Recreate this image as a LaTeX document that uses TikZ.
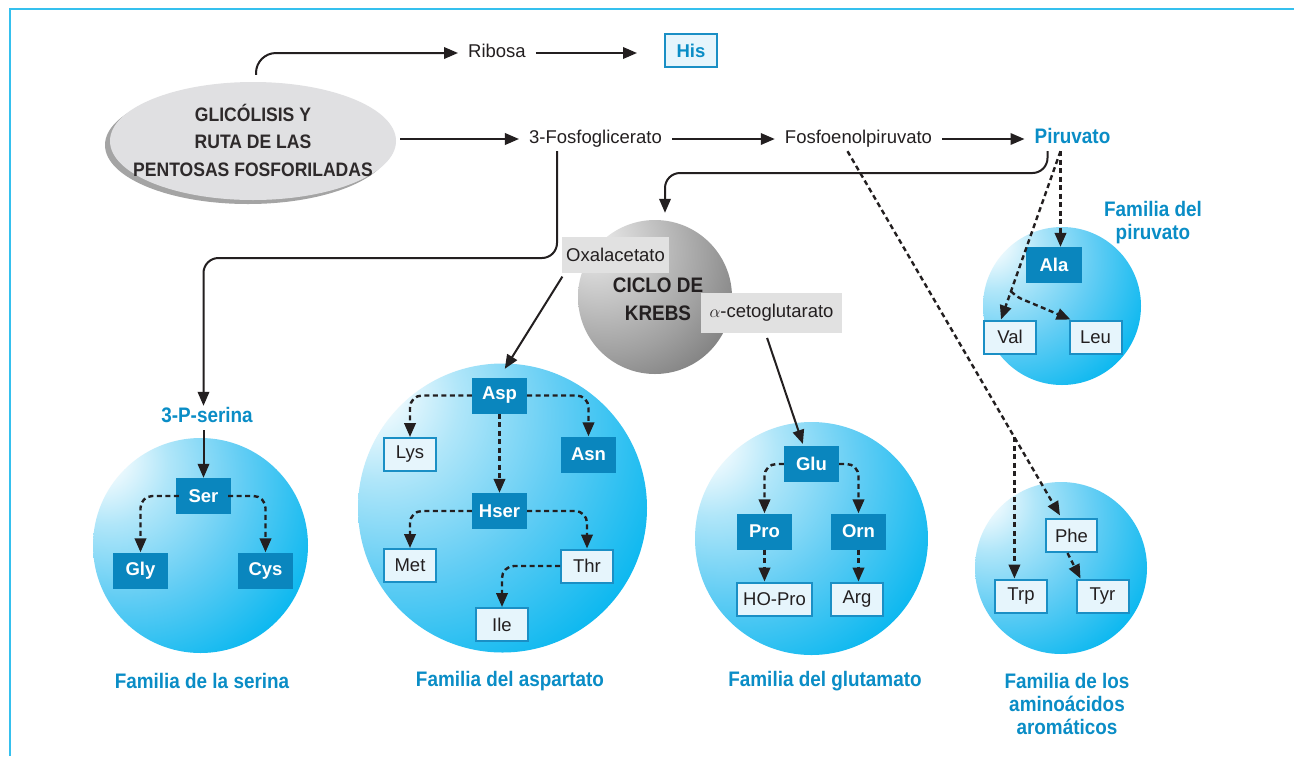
\documentclass[tikz,border=0pt]{standalone}
\usepackage{fontspec}
\setmainfont{Liberation Sans}
\newfontfamily\condfont{Liberation Sans}[FakeStretch=0.9]
\usetikzlibrary{arrows.meta,calc,shapes.geometric}

\definecolor{ink}{HTML}{231F20}
\definecolor{labelblue}{HTML}{0A8DC6}
\definecolor{boxblue}{HTML}{0A86BE}
\definecolor{lightfill}{HTML}{E6F5FC}
\definecolor{lightedge}{HTML}{1A8FC5}
\definecolor{ellgray}{HTML}{E0E0E2}
\definecolor{ellrim}{HTML}{D2D2D4}
\definecolor{shadowgray}{HTML}{A4A4A4}
\definecolor{tagfill}{HTML}{E1E1E1}
\definecolor{framecol}{HTML}{35C0EE}
\definecolor{sphB}{HTML}{B0E6F9}
\definecolor{sphC}{HTML}{62CDF4}
\definecolor{sphD}{HTML}{00B5EF}
\definecolor{grA}{HTML}{F0F0F0}
\definecolor{grB}{HTML}{D2D2D2}
\definecolor{grC}{HTML}{A0A0A0}
\definecolor{grD}{HTML}{5E5E5E}

% sphere shadings, lit from the upper left
\pgfdeclareradialshading{bluesphere}{\pgfpoint{-25bp}{22bp}}{%
  color(0bp)=(white); color(3bp)=(white); color(14bp)=(sphB);
  color(28bp)=(sphC); color(46bp)=(sphD); color(100bp)=(sphD)}
\pgfdeclareradialshading{greysphere}{\pgfpoint{-22bp}{20bp}}{%
  color(0bp)=(grA); color(12bp)=(grB); color(32bp)=(grC);
  color(56bp)=(grD); color(100bp)=(grD)}
\pgfdeclareradialshading{ellshade}{\pgfpoint{0bp}{4bp}}{%
  color(0bp)=(ellgray); color(40bp)=(ellgray); color(50bp)=(ellrim); color(100bp)=(ellrim)}

\begin{document}
\begin{tikzpicture}[x=1pt,y=-1pt,
  txt/.style={font=\fontsize{18.5}{22}\selectfont, text=ink,
    inner xsep=10pt, inner ysep=3pt, text height=13.5pt, text depth=4.5pt},
  btxt/.style={txt, font=\condfont\bfseries\fontsize{21}{22}\selectfont, text=labelblue},
  fam/.style={font=\condfont\bfseries\fontsize{21}{23}\selectfont, text=labelblue, align=center},
  dbox/.style={fill=boxblue, text=white, font=\bfseries\fontsize{18.5}{20}\selectfont,
    minimum width=55pt, minimum height=36pt, inner sep=0pt},
  lbox/.style={fill=lightfill, draw=lightedge, line width=2pt, text=ink,
    font=\fontsize{18.5}{20}\selectfont,
    minimum width=52pt, minimum height=33pt, inner sep=0pt},
  tag/.style={fill=tagfill, text=ink, font=\fontsize{18.5}{20}\selectfont, inner sep=0pt},
  sphere/.style={circle, shading=bluesphere, inner sep=0pt, draw=none},
  arr/.style={draw=ink, line width=2pt, -{Triangle[length=14pt,width=11.5pt]}},
  darr/.style={arr, line width=2.4pt, dash pattern=on 5pt off 3.5pt}]

\useasboundingbox (0,0) rectangle (1294,756);
\fill[white] (0,0) rectangle (1294,756);

% frame
\draw[framecol, line width=1.6pt] (10,756) -- (10,9) -- (1294,9);

% ---------- spheres ----------
\node[sphere, minimum size=158pt] (spir) at (1062,306) {};
\node[sphere, minimum size=172pt] (sarom) at (1061,568) {};
\node[sphere, minimum size=215pt] (sser) at (200.5,545.5) {};
\node[sphere, minimum size=289pt] (sasp) at (502.5,508) {};
\node[sphere, minimum size=233pt] (sglu) at (811.5,538.5) {};
\node[circle, shading=greysphere, inner sep=0pt, minimum size=154pt] (krebs) at (655,297) {};

% ---------- glycolysis ellipse ----------
\fill[shadowgray] (248,145) ellipse [x radius=143, y radius=59];
\node[ellipse, minimum width=286pt, minimum height=118pt, shading=ellshade, inner sep=0pt]
  (glyc) at (253,141) {};
\node[font=\condfont\bfseries\fontsize{19.5}{27.5}\selectfont, text=ink!95, align=center]
  (glyctext) at (253,140) {GLICÓLISIS Y\\RUTA DE LAS\\PENTOSAS FOSFORILADAS};

% ---------- Krebs cycle ----------
\node[tag, minimum width=107pt, minimum height=36pt] (oxa) at (615.5,255) {Oxalacetato};
\node[tag, minimum width=141pt, minimum height=40pt] (akg) at (771.5,313) {$\alpha$-cetoglutarato};
\node[font=\condfont\bfseries\fontsize{21}{28}\selectfont, text=ink, align=center]
  (krebstext) at (658,299) {CICLO DE\\KREBS};

% ---------- top metabolites ----------
\node[txt] (rib) at (497,53) {Ribosa};
\node[lbox, text=labelblue, font=\bfseries\fontsize{18.5}{20}\selectfont] (his) at (691,50.5) {His};
\node[txt] (pgc) at (595.5,139) {3-Fosfoglicerato};
\node[txt] (pep) at (858.5,139) {Fosfoenolpiruvato};
\node[btxt] (pir) at (1072.5,139) {Piruvato};
\node[btxt] (pser) at (207,418) {3-P-serina};

% ---------- amino acid boxes ----------
\node[dbox] (ser) at (203.5,496) {Ser};
\node[dbox] (gly) at (140.5,570.5) {Gly};
\node[dbox] (cys) at (265.5,570.5) {Cys};

\node[dbox] (asp) at (499.5,395.5) {Asp};
\node[lbox] (lys) at (410,454.5) {Lys};
\node[dbox] (asn) at (588.5,454.5) {Asn};
\node[dbox] (hser) at (499.5,511) {Hser};
\node[lbox] (met) at (410,565.5) {Met};
\node[lbox] (thr) at (587,566) {Thr};
\node[lbox] (ile) at (502,624.5) {Ile};

\node[dbox] (glu) at (811.5,464) {Glu};
\node[dbox] (pro) at (764.5,531.5) {Pro};
\node[dbox] (orn) at (858.5,531.5) {Orn};
\node[lbox, minimum width=75pt] (hopro) at (774.5,599) {HO-Pro};
\node[lbox] (arg) at (857,599) {Arg};

\node[dbox, minimum width=56pt] (ala) at (1054,265) {Ala};
\node[lbox] (val) at (1010,337) {Val};
\node[lbox] (leu) at (1095.5,337) {Leu};

\node[lbox, minimum width=51pt] (phe) at (1071.5,535.5) {Phe};
\node[lbox] (trp) at (1021,596) {Trp};
\node[lbox] (tyr) at (1102.5,596) {Tyr};

% ---------- family captions ----------
\node[fam] (famser) at (202,681) {Familia de la serina};
\node[fam] (famasp) at (510,681) {Familia del aspartato};
\node[fam] (famglu) at (825,681) {Familia del glutamato};
\node[fam] (famaro) at (1067,704) {Familia de los\\aminoácidos\\aromáticos};
\node[fam] (fampir) at (1153,223) {Familia del\\piruvato};

% ---------- solid connectors ----------
\draw[arr, rounded corners=20pt] ([shift={(3,-7)}]glyc.north) |- (rib.west);
\draw[arr, shorten >=27pt] (rib.east) -- (rib.east -| his.west);
\draw[arr] ($(glyc.east |- pgc.west)+(4,0)$) -- (pgc.west);
\draw[arr] (pgc.east) -- (pep.west);
\draw[arr] (pep.east) -- (pir.west);

% pyruvate into the Krebs cycle
\coordinate (pk) at ([xshift=-25pt]pir.south);
\coordinate (kt) at ([shift={(10,-7)}]krebs.north);
\coordinate (ky) at (0,173);
\draw[arr, rounded corners=15pt] (pk) -- (pk |- ky) -- (kt |- ky) -- (kt);

% 3-phosphoglycerate to 3-P-serine
\coordinate (ps) at ([xshift=-38.5pt]pgc.south);
\coordinate (sy) at (0,258);
\draw[arr, rounded corners=15pt] (ps) -- (ps |- sy) -- (ser.north |- sy) -- (ser.north |- pser.north);
\draw[arr] (ser.north |- pser.south) -- (ser.north);

% Krebs intermediates to their families
\draw[arr, shorten <=4pt, shorten >=10pt] ([xshift=-51pt]oxa.south) -- (asp.north);
\draw[arr, shorten <=5pt, shorten >=2pt] ([xshift=-6pt]akg.south) -- ([xshift=-8pt]glu.north);

% ---------- dashed connectors ----------
% serine family
\draw[darr, rounded corners=12pt] ([xshift=3pt]ser.west) -| (gly.north);
\draw[darr, rounded corners=12pt] ([xshift=-3pt]ser.east) -| (cys.north);

% aspartate family
\draw[darr, rounded corners=12pt] (asp.west) -| (lys.north);
\draw[darr, rounded corners=12pt] (asp.east) -| (asn.north);
\draw[darr] (asp.south) -- (hser.north);
\draw[darr, rounded corners=12pt] (hser.west) -| (met.north);
\draw[darr, rounded corners=12pt] (hser.east) -| (thr.north);
\draw[darr, rounded corners=12pt] (thr.west) -| (ile.north);

% glutamate family
\draw[darr, rounded corners=12pt] (glu.west) -| (pro.north);
\draw[darr, rounded corners=12pt] (glu.east) -| (orn.north);
\draw[darr] (pro.south) -- (pro.south |- hopro.north);
\draw[darr] (orn.south) -- (orn.south |- arg.north);

% pyruvate family
\coordinate (pd) at ([xshift=-12pt]pir.south);
\draw[darr] (pd) -- (pd |- ala.north);
\coordinate (valtip) at ([xshift=-9pt]val.north);
\draw[darr] (pd) -- (valtip);
\coordinate (kink) at ($(pd)!0.833!(valtip)$);
\draw[darr, rounded corners=4pt] (kink) -- ++(7,6) -- ([xshift=-25pt]leu.north);

% aromatic family
\coordinate (pa) at ([xshift=-11pt]pep.south);
\coordinate (phetip) at ([xshift=-10pt]phe.north);
\draw[darr, shorten >=3pt] (pa) -- (phetip);
\coordinate (br) at ($(pa)!0.78!(phetip)$);
\draw[darr] (br) -- (br |- trp.north);
\draw[darr] ([xshift=-4pt]phe.south) -- ([xshift=-22pt]tyr.north);

\end{tikzpicture}
\end{document}
